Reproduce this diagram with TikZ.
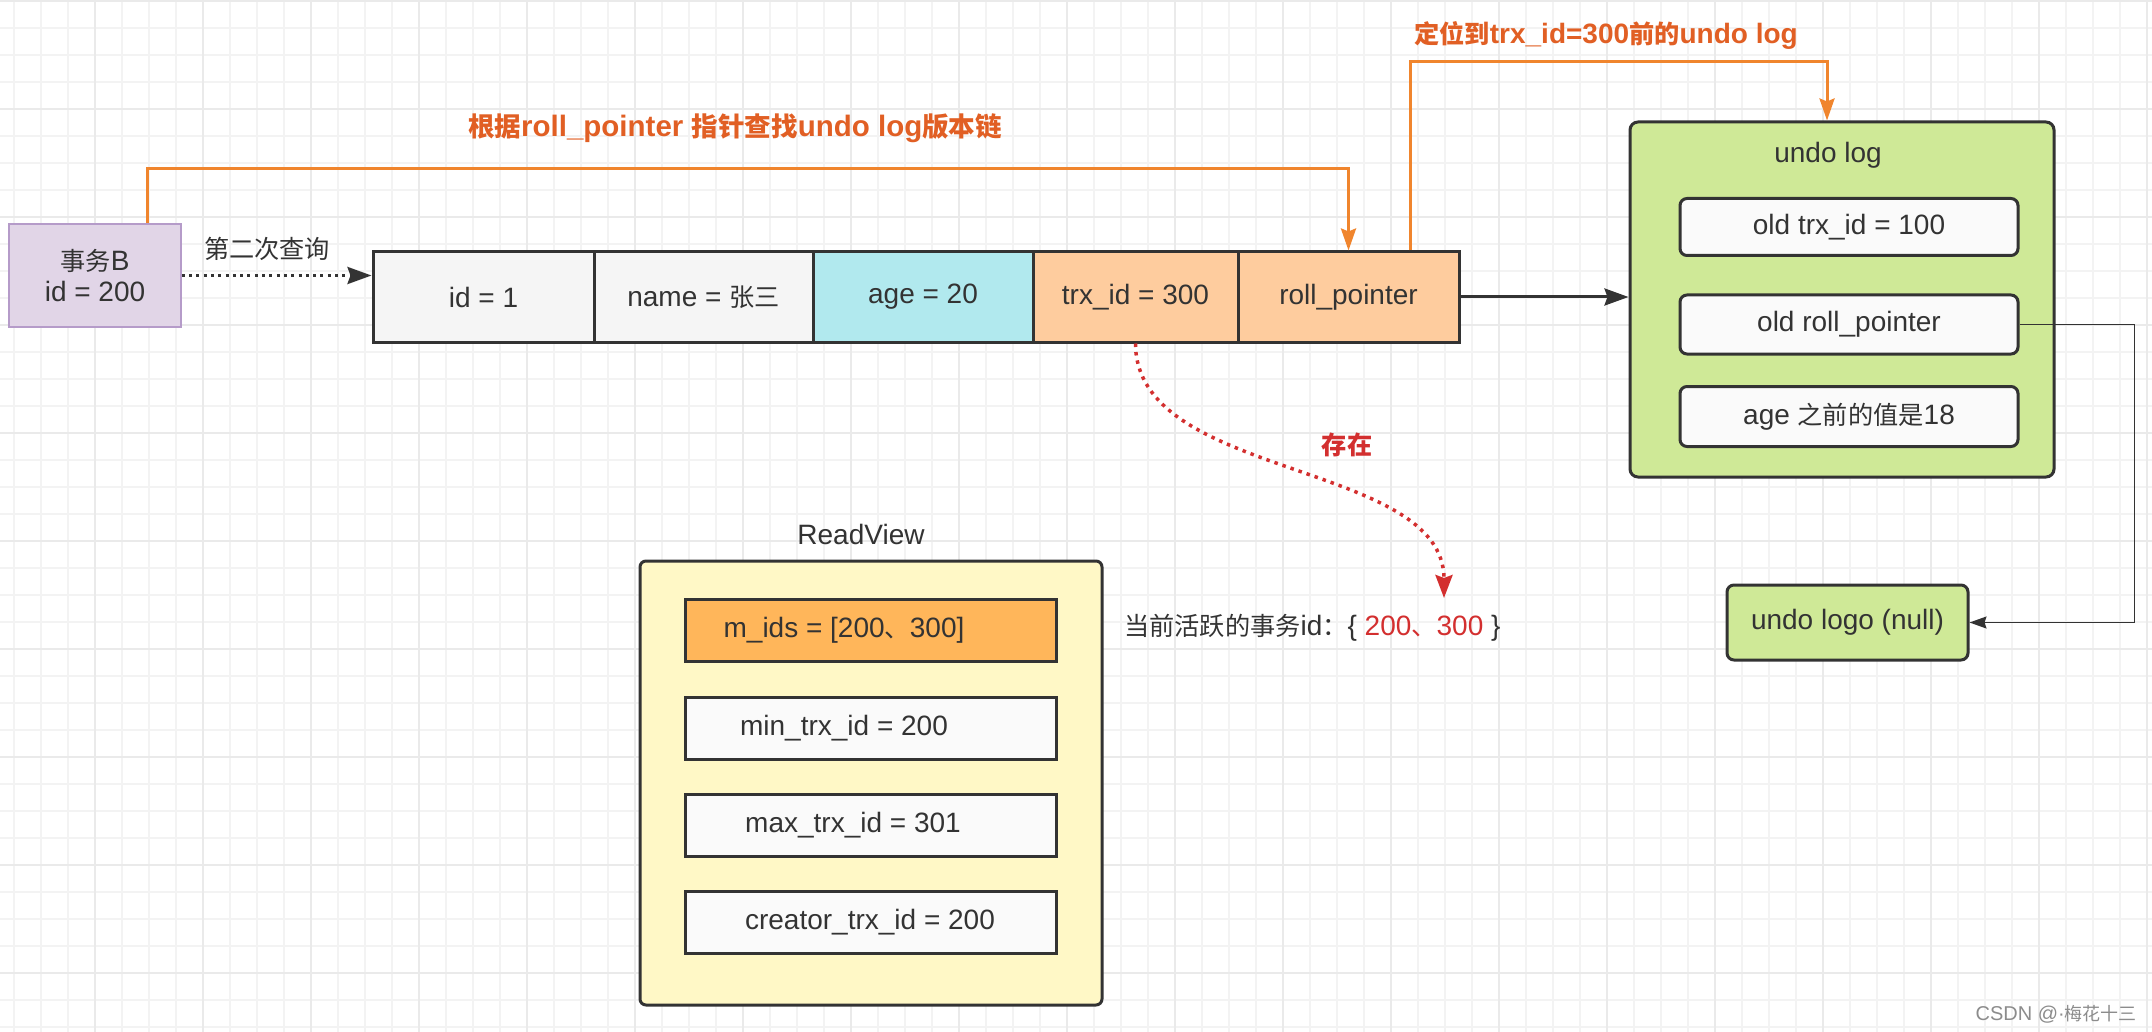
\documentclass[tikz,border=0pt]{standalone}
\usepackage{fontspec}
\setmainfont{Liberation Sans}
\newfontfamily\zh{Noto Sans CJK SC}[Scale=0.9]
\usetikzlibrary{arrows.meta}
\definecolor{tc}{HTML}{333333}
\definecolor{orl}{HTML}{F0852D}
\definecolor{ort}{HTML}{E15F24}
\definecolor{rd}{HTML}{D32F2F}
\definecolor{pfill}{HTML}{E1D5E7}
\definecolor{pdraw}{HTML}{B59BC9}
\definecolor{gfill}{HTML}{F5F5F5}
\definecolor{cyfill}{HTML}{B1E9EE}
\definecolor{pch}{HTML}{FECC9E}
\definecolor{grn}{HTML}{CFE997}
\definecolor{ylw}{HTML}{FFF8C6}
\definecolor{orgfill}{HTML}{FFB65A}
\definecolor{wht}{HTML}{FAFAFA}
\definecolor{gmin}{HTML}{F3F3F3}
\definecolor{gmaj}{HTML}{EAEAEA}
\definecolor{wm}{HTML}{8C8C8C}
\tikzset{
  txt/.style={text=tc, font=\fontsize{28}{31}\selectfont},
  cell/.style={draw=tc, line width=3pt, minimum height=90pt, inner sep=0pt, txt},
  inbox/.style={draw=tc, line width=3pt, fill=wht, inner sep=0pt, txt},
  olab/.style={text=ort, font=\fontsize{28}{31}\selectfont\bfseries},
  orng/.style={draw=orl, line width=3pt, -{Stealth[length=22pt,width=15pt,inset=3pt]}},
  blk/.style={draw=tc, line width=3pt, -{Stealth[length=24pt,width=17pt,inset=3pt]}},
  blkdot/.style={blk, dash pattern=on 3pt off 4.3pt},
  thin/.style={draw=tc, line width=1.5pt, -{Stealth[length=17pt,width=12pt,inset=2pt]}},
  reddot/.style={draw=rd, line width=3.5pt, dash pattern=on 3.5pt off 5pt, -{Stealth[length=23pt,width=17pt,inset=3pt]}},
  gridminor/.style={draw=gmin, line width=1.3pt},
  gridmajor/.style={draw=gmaj, line width=1.6pt}
}
\begin{document}
\begin{tikzpicture}[x=1pt,y=-1pt]
\useasboundingbox (0,0) rectangle (2152,1032);
\fill[white] (0,0) rectangle (2152,1032);
% grid
\foreach \k in {0,...,79} {\draw[gridminor] ({14+27*\k},0) -- ({14+27*\k},1032);}
\foreach \k in {0,...,38} {\draw[gridminor] (0,{1+27*\k}) -- (2152,{1+27*\k});}
\foreach \k in {0,...,19} {\draw[gridmajor] ({95+108*\k},0) -- ({95+108*\k},1032);}
\foreach \k in {0,...,9} {\draw[gridmajor] (0,{1+108*\k}) -- (2152,{1+108*\k});}

% transaction B
\node[draw=pdraw, line width=1.5pt, fill=pfill, minimum width=172pt, minimum height=103pt, inner sep=0pt, txt, align=center] (txB) at (95,275.5) {{\zh 事务}B\\id = 200};

% row cells
\node[cell, fill=gfill, minimum width=221pt] (c1) at (483.5,297) {id = 1};
\node[cell, fill=gfill, minimum width=219pt] (c2) at (703.5,297) {name = {\zh 张三}};
\node[cell, fill=cyfill, minimum width=220pt] (c3) at (923,297) {age = 20};
\node[cell, fill=pch, minimum width=205pt] (c4) at (1135.5,297) {trx\_id = 300};
\node[cell, fill=pch, minimum width=221pt] (c5) at (1348.5,297) {roll\_pointer};

% query arrow
\node[txt] (q) at (267,249) {\zh 第二次查询};
\draw[blkdot] (txB.east) -- (txB.east -| c1.west);

% undo log
\node[draw=tc, line width=3pt, fill=grn, rounded corners=8pt, minimum width=424pt, minimum height=355pt] (ulog) at (1842,299.5) {};
\node[txt] (ulogt) at (1828,155) {undo log};
\node[inbox, rounded corners=7pt, minimum width=338pt, minimum height=57pt] (u1) at (1849,227) {old trx\_id = 100};
\node[inbox, rounded corners=7pt, minimum width=338pt, minimum height=59pt] (u2) at (1849,324.5) {old roll\_pointer};
\node[inbox, rounded corners=7pt, minimum width=338pt, minimum height=60pt] (u3) at (1849,416.5) {age {\zh 之前的值是}18};

\node[draw=tc, line width=3pt, fill=grn, rounded corners=7pt, minimum width=241pt, minimum height=75pt, txt] (nul) at (1847.5,622.5) {undo logo (null)};

\draw[blk] (c5.east) -- (ulog.west |- c5.east);
\draw[thin] (u2.east) -- ++(115,0) |- (nul.east);

% orange connectors
\node[olab, font=\fontsize{29.5}{32}\selectfont\bfseries] (lab1) at (735,128) {{\zh 根据}roll\_pointer {\zh 指针查找}undo log{\zh 版本链}};
\draw[orng] ([xshift=52pt]txB.north) -- ++(0,-55) -| (c5.north);
\node[olab] (lab2) at (1606,35) {{\zh 定位到}trx\_id=300{\zh 前的}undo log};
\draw[orng] ([xshift=61.5pt]c5.north) -- ++(0,-189) -| ([xshift=-15pt]ulog.north);

% red curve
\coordinate (rend) at (1444,598);
\draw[reddot] (c4.south) .. controls (1135.5,480) and (1444,460) .. (rend);
\node[text=rd, font=\fontsize{28}{31}\selectfont\bfseries] (ex) at (1347,445) {\zh 存在};

% ReadView
\node[txt] (rvt) at (861,534) {ReadView};
\node[draw=tc, line width=3pt, fill=ylw, rounded corners=6pt, minimum width=462pt, minimum height=444pt] (rv) at (871,783) {};
\node[draw=tc, line width=3pt, fill=orgfill, minimum width=371pt, minimum height=62pt] (r1) at (870.5,630.5) {};
\node[txt] (r1t) at (844,630.5) {m\_ids = [200{\zh 、}300]};
\node[inbox, minimum width=371pt, minimum height=62pt] (r2) at (870.5,728) {};
\node[txt] (r2t) at (844,728) {min\_trx\_id = 200};
\node[inbox, minimum width=371pt, minimum height=62pt] (r3) at (870.5,825) {};
\node[txt] (r3t) at (853,825) {max\_trx\_id = 301};
\node[inbox, minimum width=371pt, minimum height=62pt] (r4) at (870.5,922) {};
\node[txt] (r4t) at (870,922) {creator\_trx\_id = 200};

\node[txt, anchor=west, inner sep=0pt] (act) at (1124,628) {{\zh 当前活跃的事务}id{\zh ：}\{ \textcolor{rd}{200{\zh 、}300} \}};

% watermark
\node[text=wm, font=\fontsize{20}{22}\selectfont, anchor=east, inner sep=0pt] (wmk) at (2137,1014) {CSDN @·{\zh 梅花十三}};
\end{tikzpicture}
\end{document}
